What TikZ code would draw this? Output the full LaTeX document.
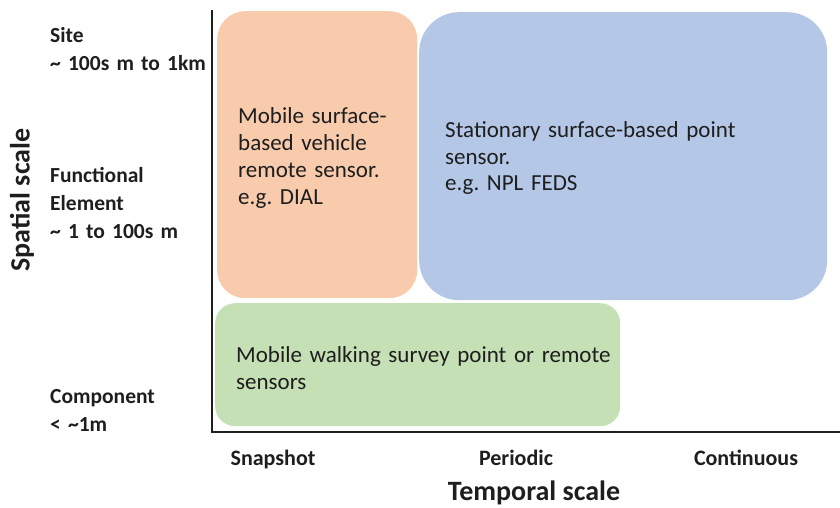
\documentclass[tikz,border=0pt]{standalone}
\usepackage{fontspec}
\setmainfont{Carlito}
\frenchspacing
\definecolor{orangeF}{HTML}{F8CBAD}
\definecolor{blueF}{HTML}{B4C7E7}
\definecolor{greenF}{HTML}{C5E0B4}
\definecolor{ink}{HTML}{1E1E1E}
\begin{document}
\frenchspacing
\begin{tikzpicture}[x=1pt,y=-1pt,
  region/.style={rounded corners=#1, inner sep=0pt, draw=none, anchor=north west},
  boxtext/.style={anchor=base west, inner sep=0pt, text width=#1, align=left,
    text=ink, font=\fontsize{23}{27}\selectfont},
  scalelabel/.style={anchor=base west, inner sep=0pt, text width=170pt, align=left,
    text=ink, font=\bfseries\fontsize{21.5}{28}\selectfont},
  ticklabel/.style={anchor=base, inner sep=0pt, text=ink, font=\bfseries\fontsize{22}{28}\selectfont},
  axistitle/.style={inner sep=0pt, text=ink, font=\bfseries\fontsize{28}{32}\selectfont},
  axisline/.style={draw=ink, line width=1.6pt}]
\useasboundingbox (0,0) rectangle (840,508);

% regions
\node[region=28pt, fill=orangeF, minimum width=200pt, minimum height=287pt] (orange) at (217,11) {};
\node[region=40pt, fill=blueF, minimum width=408pt, minimum height=288pt] (blue) at (419,12) {};
\node[region=20pt, fill=greenF, minimum width=405pt, minimum height=123pt] (green) at (215,303) {};

% region texts
\node[boxtext=180pt] (orangetext) at (238,124) {Mobile surface-\\based vehicle\\remote sensor.\\e.g. DIAL};
\node[boxtext=340pt] (bluetext) at (445,137) {Stationary surface-based point\\sensor.\\e.g. NPL FEDS};
\node[boxtext=380pt] (greentext) at (236,362) {Mobile walking survey point or remote\\sensors};

% axes
\coordinate (ytop) at (212,10);
\coordinate (origin) at (212,432);
\coordinate (xend) at (840,432);
\draw[axisline] (ytop) -- (origin) -- (xend);

% spatial scale labels
\node[scalelabel] (site) at (50,43) {Site\\\textasciitilde{} 100s m to 1km};
\node[scalelabel] (functional) at (50,182) {Functional\\Element\\\textasciitilde{} 1 to 100s m};
\node[scalelabel] (component) at (50,403) {Component\\\textless{} \textasciitilde 1m};

% temporal scale labels
\node[ticklabel] (snapshot) at (273,465) {Snapshot};
\node[ticklabel] (periodic) at (516,465) {Periodic};
\node[ticklabel] (continuous) at (746,465) {Continuous};

% axis titles
\node[axistitle, anchor=base] (temporal) at (534,500) {Temporal scale};
\node[axistitle, rotate=90] (spatial) at (22,200) {Spatial scale};
\end{tikzpicture}
\end{document}
